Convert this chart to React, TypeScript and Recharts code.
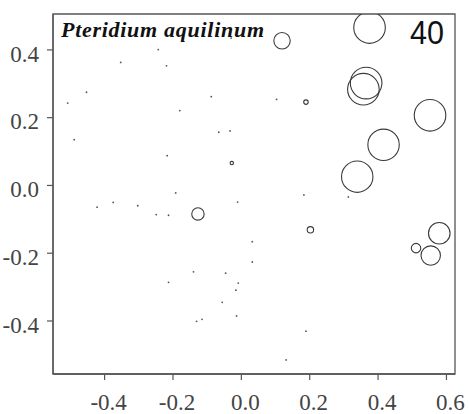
import React from "react";
import { ScatterChart, Scatter, XAxis, YAxis, ZAxis, ReferenceArea, Customized } from "recharts";

// Ordination scores of the sample plots (axis 1 / axis 2) and the
// percentage cover of Pteridium aquilinum recorded in each plot.
const plotX: number[] = [
  0.375, 0.119, 0.365, 0.357, 0.552, 0.416, 0.339, 0.579, 0.511, 0.554, 0.202, 0.189, -0.028, -0.127,
  0.103, 0.183, 0.313, 0.032, 0.032, 0.189, 0.131, -0.03, -0.243, -0.353, -0.219, -0.453, -0.508,
  -0.088, -0.18, -0.489, -0.066, -0.033, -0.217, -0.192, -0.011, -0.422, -0.375, -0.303, -0.249,
  -0.213, -0.14, -0.046, -0.213, -0.009, -0.016, -0.056, -0.014, -0.131, -0.115,
];
const plotY: number[] = [
  0.466, 0.427, 0.302, 0.284, 0.207, 0.12, 0.026, -0.141, -0.185, -0.207, -0.131, 0.246, 0.066, -0.084,
  0.254, -0.028, -0.034, -0.166, -0.226, -0.43, -0.515, 0.435, 0.401, 0.363, 0.353, 0.275, 0.243,
  0.262, 0.221, 0.135, 0.157, 0.161, 0.088, -0.022, -0.049, -0.064, -0.05, -0.06, -0.086,
  -0.088, -0.255, -0.259, -0.286, -0.288, -0.309, -0.345, -0.385, -0.401, -0.395,
];
const cover: number[] = [
  39, 10.5, 39, 39, 39, 38.5, 38.5, 18.2, 3.5, 14.7, 1.6, 0.8, 0.45, 6,
  0, 0, 0, 0, 0, 0, 0, 0, 0, 0, 0, 0, 0,
  0, 0, 0, 0, 0, 0, 0, 0, 0, 0, 0, 0,
  0, 0, 0, 0, 0, 0, 0, 0, 0, 0,
];

const xTicks: number[] = [-0.4, -0.2, 0.0, 0.2, 0.4, 0.6];
const yTicks: number[] = [-0.4, -0.2, 0.0, 0.2, 0.4];

const speciesName = "Pteridium aquilinum";
const plotNumber = "40";

const points = plotX.map((x, i) => ({ x, y: plotY[i], cover: cover[i] }));

const X_DOMAIN: [number, number] = [-0.551, 0.625];
const Y_DOMAIN: [number, number] = [-0.5565, 0.506];
const MAX_COVER = 40;
const MAX_R = 16;

const AXIS_COLOR = "#555";
const TICK_FONT = "'Liberation Serif', 'Times New Roman', serif";
const TICK_SIZE = 23;
const TICK_FILL = "#444";

const fmt = (v: number) => Number(v).toFixed(1);

const XTick = (props: any) => {
  const { x, y, payload } = props;
  return (
    <text
      x={x + 4}
      y={y}
      dy={16.3}
      textAnchor="middle"
      fontFamily={TICK_FONT}
      fontSize={TICK_SIZE}
      fill={TICK_FILL}
    >
      {fmt(payload.value)}
    </text>
  );
};

const YTick = (props: any) => {
  const { x, y, payload } = props;
  return (
    <text
      x={x}
      y={y}
      dy={11.7}
      textAnchor="end"
      fontFamily={TICK_FONT}
      fontSize={TICK_SIZE}
      fill={TICK_FILL}
    >
      {fmt(payload.value)}
    </text>
  );
};

const BubbleShape = (props: any) => {
  const { cx, cy, size, payload } = props;
  if (cx == null || cy == null) return null;
  if (!payload || payload.cover <= 0) {
    return <circle cx={cx} cy={cy} r={0.9} fill="#555" />;
  }
  const r = Math.sqrt(size / Math.PI);
  return <circle cx={cx} cy={cy} r={r} fill="none" stroke="#3a3a3a" strokeWidth={1.1} />;
};

const Annotations = () => (
  <g>
    <text
      x={61}
      y={36.7}
      fontFamily="'Liberation Serif', serif"
      fontSize={22}
      fontWeight="bold"
      fontStyle="italic"
      fill="#111"
      textLength={203}
      lengthAdjust="spacing"
    >
      {speciesName}
    </text>
    <text
      x={410}
      y={44.3}
      fontFamily="'Liberation Sans', Arial, sans-serif"
      fontSize={33}
      fill="#111"
      textLength={34}
      lengthAdjust="spacingAndGlyphs"
    >
      {plotNumber}
    </text>
  </g>
);

export default function App() {
  return (
    <div style={{ position: "absolute", left: 0, top: 0, background: "#fff" }}>
      <ScatterChart
        width={469}
        height={414}
        margin={{ top: 14, right: 14, bottom: 0, left: 0 }}
      >
        <XAxis
          type="number"
          dataKey="x"
          domain={X_DOMAIN}
          allowDataOverflow
          ticks={xTicks}
          height={40}
          tickSize={6}
          tickMargin={14}
          axisLine={{ stroke: AXIS_COLOR, strokeWidth: 1.3 }}
          tickLine={{ stroke: AXIS_COLOR, strokeWidth: 1.2 }}
          tick={XTick}
          interval={0}
        />
        <YAxis
          type="number"
          dataKey="y"
          domain={Y_DOMAIN}
          allowDataOverflow
          ticks={yTicks}
          width={53}
          tickSize={6}
          tickMargin={8}
          axisLine={{ stroke: AXIS_COLOR, strokeWidth: 1.3 }}
          tickLine={{ stroke: AXIS_COLOR, strokeWidth: 1.2 }}
          tick={YTick}
          interval={0}
        />
        <ZAxis
          type="number"
          dataKey="cover"
          domain={[0, MAX_COVER]}
          range={[0, Math.PI * MAX_R * MAX_R]}
        />
        {/* frame around the plotting region */}
        <ReferenceArea
          x1={X_DOMAIN[0]}
          x2={X_DOMAIN[1]}
          y1={Y_DOMAIN[0]}
          y2={Y_DOMAIN[1]}
          fill="none"
          fillOpacity={0}
          stroke={AXIS_COLOR}
          strokeWidth={1.3}
          ifOverflow="visible"
        />
        <Scatter data={points} shape={BubbleShape} isAnimationActive={false} />
        <Customized component={Annotations} />
      </ScatterChart>
    </div>
  );
}
